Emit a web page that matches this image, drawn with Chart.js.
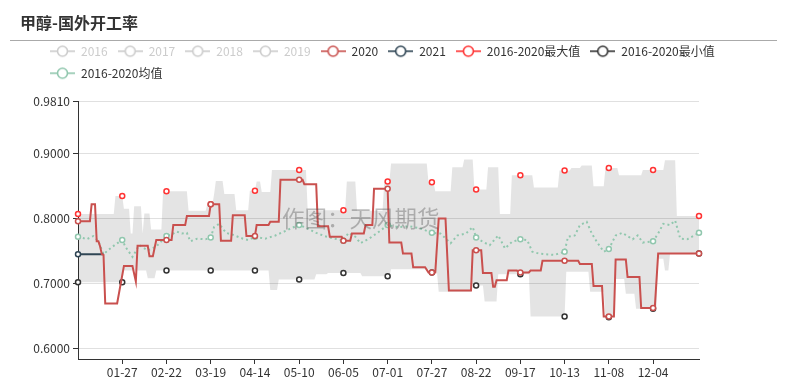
<!DOCTYPE html>
<html><head><meta charset="utf-8">
<script src="https://cdn.jsdelivr.net/npm/chart.js@4/dist/chart.umd.min.js"></script>
<style>html,body{margin:0;padding:0;background:#fff;overflow:hidden}#wrap{width:788px;height:383px;position:relative}</style>
</head><body><div id="wrap"><canvas id="c" width="788" height="383"></canvas></div>
<script>
const FONT = "'Noto Sans CJK SC', 'Microsoft YaHei', sans-serif";
const titleText = '甲醇-国外开工率';
const watermarkText = '作图：天风期货';
const seriesNames = ['2016','2017','2018','2019','2020','2021','2016-2020最大值','2016-2020最小值','2016-2020均值'];
const tickDays = [26,52,78,104,130,156,182,208,234,260,286,312,338];
const tickLabels = ['01-27','02-22','03-19','04-14','05-10','06-05','07-01','07-27','08-22','09-17','10-13','11-08','12-04'];
const yTicks = [0.6,0.7,0.8,0.9,0.981];

// [day index from 01-01, value]
const s2020 = [[0,0.796],[7,0.796],[8,0.822],[10,0.822],[11,0.765],[12,0.765],[13,0.757],[14,0.745],[15,0.744],[16,0.669],[23,0.669],[27,0.727],[32,0.727],[34,0.703],[35,0.758],[41,0.758],[42,0.742],[44,0.742],[46,0.767],[52,0.767],[55,0.767],[56,0.790],[63,0.790],[64,0.804],[77,0.804],[78,0.822],[83,0.822],[84,0.766],[90,0.766],[91,0.805],[98,0.805],[99,0.773],[104,0.773],[105,0.790],[112,0.790],[113,0.795],[118,0.795],[119,0.860],[130,0.860],[132,0.860],[133,0.853],[140,0.853],[141,0.788],[147,0.788],[148,0.772],[155,0.772],[156,0.766],[160,0.766],[161,0.777],[168,0.777],[169,0.790],[173,0.790],[174,0.846],[182,0.846],[183,0.763],[190,0.763],[191,0.746],[196,0.746],[197,0.725],[204,0.725],[206,0.717],[208,0.717],[210,0.717],[212,0.800],[216,0.800],[218,0.689],[231,0.689],[232,0.751],[234,0.751],[237,0.751],[238,0.716],[243,0.716],[244,0.695],[245,0.695],[246,0.705],[252,0.705],[253,0.720],[258,0.720],[259,0.717],[260,0.717],[265,0.717],[266,0.720],[272,0.720],[273,0.735],[286,0.735],[294,0.735],[295,0.730],[302,0.730],[303,0.696],[308,0.696],[309,0.649],[312,0.649],[315,0.649],[316,0.737],[322,0.737],[323,0.710],[330,0.710],[331,0.662],[338,0.662],[339,0.662],[341,0.746],[365,0.746]];
const s2021 = [[0,0.745],[15,0.745]];
const sMax = [[0,0.807],[21,0.807],[22,0.835],[26,0.835],[27,0.815],[30,0.815],[31,0.777],[32,0.777],[33,0.819],[37,0.819],[38,0.777],[39,0.808],[42,0.808],[43,0.783],[49,0.783],[50,0.842],[52,0.842],[64,0.842],[65,0.812],[75,0.812],[76,0.822],[78,0.822],[79,0.822],[80,0.838],[81,0.858],[85,0.858],[86,0.838],[92,0.838],[93,0.813],[100,0.813],[101,0.843],[104,0.843],[105,0.857],[107,0.857],[108,0.841],[113,0.841],[114,0.875],[130,0.875],[134,0.875],[135,0.813],[156,0.813],[157,0.813],[158,0.857],[163,0.857],[164,0.812],[179,0.812],[180,0.857],[182,0.857],[183,0.857],[184,0.885],[205,0.885],[206,0.856],[208,0.856],[209,0.856],[210,0.842],[219,0.842],[220,0.879],[226,0.879],[227,0.891],[232,0.891],[233,0.845],[234,0.845],[240,0.845],[241,0.879],[247,0.879],[248,0.807],[254,0.807],[255,0.867],[260,0.867],[267,0.867],[268,0.848],[282,0.848],[283,0.874],[286,0.874],[289,0.874],[290,0.878],[295,0.878],[296,0.882],[302,0.882],[303,0.850],[309,0.850],[310,0.878],[312,0.878],[317,0.878],[318,0.867],[331,0.867],[332,0.875],[338,0.875],[344,0.875],[345,0.890],[351,0.890],[352,0.804],[365,0.804]];
const sMin = [[0,0.702],[26,0.702],[27,0.720],[40,0.720],[41,0.708],[45,0.708],[46,0.720],[52,0.720],[78,0.720],[104,0.720],[112,0.720],[113,0.690],[117,0.690],[118,0.706],[130,0.706],[139,0.706],[140,0.714],[146,0.714],[147,0.716],[156,0.716],[166,0.716],[167,0.711],[182,0.711],[183,0.711],[184,0.722],[206,0.722],[207,0.717],[208,0.717],[211,0.717],[212,0.687],[231,0.687],[232,0.697],[234,0.697],[238,0.697],[239,0.672],[246,0.672],[247,0.714],[260,0.714],[265,0.714],[266,0.649],[286,0.649],[287,0.718],[300,0.718],[301,0.687],[309,0.687],[310,0.648],[312,0.648],[315,0.648],[316,0.707],[321,0.707],[322,0.684],[327,0.684],[328,0.661],[338,0.661],[340,0.661],[341,0.738],[344,0.738],[345,0.720],[347,0.720],[348,0.746],[365,0.746]];
const sAvg = [[0,0.772],[3,0.770],[5,0.768],[9,0.773],[12,0.765],[15,0.745],[18,0.752],[22,0.760],[26,0.767],[28,0.756],[32,0.741],[36,0.759],[41,0.751],[46,0.757],[52,0.773],[56,0.777],[58,0.780],[61,0.777],[64,0.778],[66,0.765],[70,0.769],[75,0.768],[78,0.771],[80,0.787],[83,0.792],[87,0.778],[91,0.775],[97,0.769],[100,0.767],[104,0.772],[110,0.769],[116,0.774],[122,0.781],[126,0.786],[130,0.790],[134,0.786],[140,0.778],[145,0.773],[151,0.769],[156,0.766],[159,0.778],[163,0.772],[166,0.762],[171,0.769],[176,0.778],[182,0.790],[188,0.787],[195,0.788],[201,0.785],[208,0.778],[213,0.777],[219,0.762],[223,0.774],[228,0.777],[232,0.787],[234,0.771],[238,0.764],[242,0.759],[247,0.774],[251,0.754],[255,0.764],[260,0.768],[264,0.767],[267,0.749],[271,0.746],[280,0.744],[286,0.749],[288,0.772],[292,0.774],[295,0.790],[299,0.795],[302,0.777],[305,0.764],[309,0.749],[312,0.753],[316,0.774],[320,0.778],[326,0.768],[329,0.774],[332,0.763],[338,0.765],[341,0.777],[344,0.792],[348,0.790],[351,0.797],[354,0.769],[358,0.768],[365,0.778]];

const colors = ['#cccccc','#cccccc','#cccccc','#cccccc','#c9504e','#2f4554','#ff3333','#333333','#91c7ae'];

const mk = a => a.map(p => ({x: p[0], y: p[1]}));
const markR = ctx => { const r = ctx.raw; return r && (r.x % 26 === 0 || r.x === 365) ? 2.5 : 0; };

function icon(color) {
  const c = document.createElement('canvas'); c.width = 25; c.height = 14;
  const g = c.getContext('2d');
  g.strokeStyle = color; g.lineWidth = 1.6;
  g.beginPath(); g.moveTo(0, 7); g.lineTo(25, 7); g.stroke();
  g.beginPath(); g.arc(12.5, 7, 5, 0, Math.PI * 2); g.fillStyle = '#fff'; g.fill(); g.lineWidth = 1.6; g.stroke();
  return c;
}
const icons = colors.map(icon);

function lineDs(i, data, extra) {
  return Object.assign({
    label: seriesNames[i], data: mk(data), borderColor: colors[i], borderWidth: 2,
    pointRadius: markR, pointHoverRadius: markR, pointBackgroundColor: '#fff', pointBorderColor: colors[i],
    pointBorderWidth: 1.5, tension: 0, fill: false, clip: false
  }, extra || {});
}

const datasets = [
  {label: seriesNames[0], data: [], hidden: true, borderColor: colors[0]},
  {label: seriesNames[1], data: [], hidden: true, borderColor: colors[1]},
  {label: seriesNames[2], data: [], hidden: true, borderColor: colors[2]},
  {label: seriesNames[3], data: [], hidden: true, borderColor: colors[3]},
  lineDs(4, s2020, {order: 0}),
  lineDs(5, s2021, {order: 1}),
  lineDs(6, sMax, {order: 4, borderColor: 'rgba(0,0,0,0)', fill: {target: 7, above: 'rgba(0,0,0,0.105)', below: 'rgba(0,0,0,0.105)'}}),
  lineDs(7, sMin, {order: 3, borderColor: 'rgba(0,0,0,0)'}),
  lineDs(8, sAvg, {order: 2, borderDash: [2, 3]})
];

const deco = {
  id: 'deco',
  afterLayout(chart) { if (chart.legend) chart.legend.left += 20; },
  beforeDraw(chart) {
    const c = chart.ctx; c.save();
    c.strokeStyle = '#aaaaaa'; c.lineWidth = 1;
    c.beginPath(); c.moveTo(10, 40.5); c.lineTo(777, 40.5); c.stroke();
    c.restore();
  },
  afterDatasetsDraw(chart) {
    const c = chart.ctx; c.save();
    c.font = '22.5px ' + FONT; c.fillStyle = 'rgba(80,80,80,0.38)'; c.textBaseline = 'middle';
    c.fillText(watermarkText, 282, 218);
    c.restore();
  }
};

new Chart(document.getElementById('c'), {
  type: 'line',
  data: {datasets},
  plugins: [deco],
  options: {
    responsive: false, animation: false, devicePixelRatio: 1,
    layout: {padding: {left: 20, right: 10, top: 0, bottom: 0}},
    plugins: {
      tooltip: {enabled: false},
      title: {display: true, text: titleText, align: 'start', color: '#333',
        font: {size: 16, weight: 'bold', family: FONT}, padding: {top: 13, bottom: 3}},
      legend: {
        display: true, position: 'top', align: 'start',
        labels: {
          usePointStyle: true, pointStyleWidth: 25, boxHeight: 12, padding: 10,
          font: {size: 12, family: FONT}, color: '#333',
          generateLabels(chart) {
            return chart.data.datasets.map((ds, i) => ({
              text: ds.label, pointStyle: icons[i], fontColor: ds.hidden ? '#cccccc' : '#333333',
              hidden: false, datasetIndex: i, lineWidth: 0,
              strokeStyle: 'rgba(0,0,0,0)', fillStyle: 'rgba(0,0,0,0)'
            }));
          }
        }
      }
    },
    scales: {
      x: {
        type: 'linear', position: 'bottom', min: 0, max: 365,
        afterBuildTicks: s => { s.ticks = tickDays.map(v => ({value: v})); },
        afterFit: s => { s.height = 24; },
        ticks: {autoSkip: false, maxRotation: 0, padding: 1, color: '#333',
          font: {size: 12, family: FONT}, callback: v => tickLabels[tickDays.indexOf(v)]},
        grid: {display: true, drawOnChartArea: false, drawTicks: true, tickLength: 5, tickColor: '#333', color: '#333'},
        border: {display: true, color: '#333', width: 1}
      },
      xTop: {
        type: 'linear', axis: 'x', position: 'top', min: 0, max: 365, display: true,
        grid: {display: false}, border: {display: false}, ticks: {display: false},
        afterFit: s => { s.height = 12; }
      },
      y: {
        type: 'linear', position: 'left', min: 0.5835, max: 0.981,
        afterBuildTicks: s => { s.ticks = yTicks.map(v => ({value: v})); },
        afterFit: s => { s.width = 58; },
        ticks: {padding: 3, color: '#333', font: {size: 12, family: FONT}, callback: v => Number(v).toFixed(4)},
        grid: {color: '#e0e0e0', tickColor: '#333', tickLength: 5, drawTicks: true},
        border: {display: true, color: '#333', width: 1}
      },
      yR: {
        type: 'linear', axis: 'y', position: 'right', display: true,
        grid: {display: false}, border: {display: false}, ticks: {display: false},
        afterFit: s => { s.width = 79; }
      }
    }
  }
});
</script>
</body></html>
